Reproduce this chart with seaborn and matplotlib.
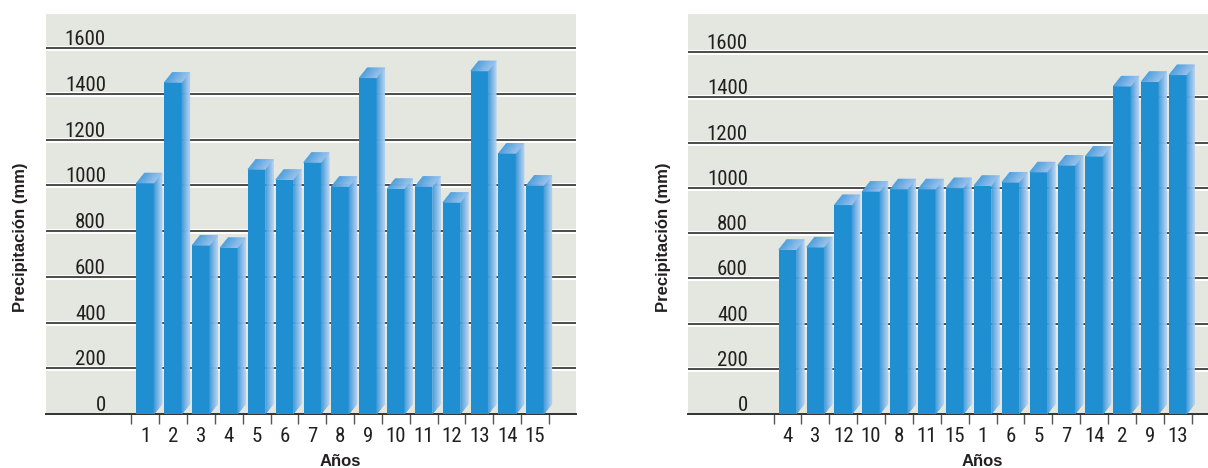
import numpy as np
import pandas as pd
import matplotlib
matplotlib.use("Agg")
import matplotlib.pyplot as plt
import seaborn as sns
from matplotlib.patches import Polygon
from matplotlib.colors import to_rgb
from matplotlib import font_manager

# ---- data -------------------------------------------------------------
years = ["1", "2", "3", "4", "5", "6", "7", "8", "9", "10", "11", "12", "13", "14", "15"]
precip_mm = [1010, 1450, 738, 727, 1070, 1025, 1100, 995, 1470, 985, 995, 925, 1500, 1140, 1000]
y_ticks = [0, 200, 400, 600, 800, 1000, 1200, 1400, 1600]
x_title = "Años"
y_title = "Precipitación (mm)"

df = pd.DataFrame({"year": years, "precip": precip_mm})
df_sorted = df.sort_values("precip", kind="stable")

# ---- style ------------------------------------------------------------
FRONT = "#1F8FD1"
SIDE_DARK, SIDE_LIGHT = "#3A97D8", "#B3D0F1"
TOP_DARK, TOP_LIGHT = "#4A9EDD", "#98C0EC"
PANEL = "#E3E7E0"
TEXT = "#231F20"
GRID = "#3D3D3D"
DX, DY = 8, 10  # depth of the bars, in pixels

# narrow face for the numbers, if one is available
installed = {f.name for f in font_manager.fontManager.ttflist}
narrow = [n for n in ("Roboto Condensed", "Liberation Sans Narrow", "Open Sans Condensed")
          if n in installed]
NUM_FAMILY = narrow + ["Liberation Sans", "DejaVu Sans"]
NUM_SIZE = 15 if narrow else 13.5
NUM_WEIGHT = "normal"

plt.rcParams["font.family"] = NUM_FAMILY

W, H = 1208, 468
fig = plt.figure(figsize=(W / 100, H / 100), dpi=100)
fig.patch.set_facecolor("white")


def px_axes(x0, x1, ytop, ybot):
    return fig.add_axes([x0 / W, 1 - ybot / H, (x1 - x0) / W, (ybot - ytop) / H])


def mix(c1, c2, t):
    a, b = np.array(to_rgb(c1)), np.array(to_rgb(c2))
    return tuple(a + (b - a) * t)


def draw_panel(ax, data, xlim, ytop, label_frac, ylab_x):
    sns.barplot(data=data, x="year", y="precip", order=list(data["year"]),
                color=FRONT, saturation=1, width=0.63, linewidth=0,
                errorbar=None, ax=ax, zorder=3)
    ax.set_xlim(*xlim)
    ax.set_ylim(0, ytop)
    ax.set_facecolor(PANEL)
    ax.set_xlabel("")
    ax.set_ylabel("")

    # embossed horizontal grid
    for v in y_ticks[1:]:
        ax.axhline(v, color="white", lw=3.6, zorder=1)
        ax.axhline(v, color=GRID, lw=1.3, zorder=1.5)

    # value labels sitting just above each grid line
    for v in y_ticks:
        ax.annotate(str(v), xy=(label_frac, v), xycoords=("axes fraction", "data"),
                    xytext=(0, 3), textcoords="offset pixels",
                    ha="right", va="baseline", fontsize=NUM_SIZE, fontweight=NUM_WEIGHT,
                    color=TEXT, zorder=2)

    # side and top faces of each bar
    to_data = ax.transData.inverted()
    for bar in list(ax.patches):
        x0, w, h = bar.get_x(), bar.get_width(), bar.get_height()
        X0, Y0 = ax.transData.transform((x0, 0))
        X1, Y1 = ax.transData.transform((x0 + w, h))
        n = 8
        for i in range(n):
            a, b = i / n, (i + 1) / n
            pts = [(X1 + DX * a, Y0 + DY * a), (X1 + DX * b, Y0 + DY * b),
                   (X1 + DX * b, Y1 + DY * b), (X1 + DX * a, Y1 + DY * a)]
            col = mix(SIDE_DARK, SIDE_LIGHT, (i + 0.5) / n)
            ax.add_patch(Polygon(to_data.transform(pts), closed=True, facecolor=col,
                                 edgecolor=col, lw=0.4, zorder=3))
        m = 10
        for i in range(m):
            a, b = i / m, (i + 1) / m
            xa, xb = X0 + (X1 - X0) * a, X0 + (X1 - X0) * b
            pts = [(xa, Y1), (xb, Y1), (xb + DX, Y1 + DY), (xa + DX, Y1 + DY)]
            col = mix(TOP_DARK, TOP_LIGHT, (i + 0.5) / m)
            ax.add_patch(Polygon(to_data.transform(pts), closed=True, facecolor=col,
                                 edgecolor=col, lw=0.4, zorder=3))

    # axes frame and ticks
    for side in ("top", "left", "right"):
        ax.spines[side].set_visible(False)
    ax.spines["bottom"].set_color("#333333")
    ax.spines["bottom"].set_linewidth(1.4)
    ax.tick_params(axis="y", left=False, labelleft=False)
    n_cat = len(data)
    ax.set_xticks(np.arange(n_cat))
    ax.set_xticklabels(list(data["year"]), fontweight=NUM_WEIGHT)
    ax.set_xticks(np.arange(-0.5, n_cat, 1), minor=True)
    ax.tick_params(axis="x", which="major", length=0, pad=9, labelsize=NUM_SIZE, labelcolor=TEXT)
    ax.tick_params(axis="x", which="minor", length=7, width=1, color="#555555")

    ax.annotate(x_title, xy=((n_cat - 1) / 2, 0), xycoords="data",
                xytext=(0, -52), textcoords="offset pixels", ha="center", va="baseline",
                fontsize=12, fontweight="bold", family=["Liberation Sans", "DejaVu Sans"],
                color=TEXT, annotation_clip=False)
    fig.text(ylab_x / W, 1 - 237 / H, y_title, rotation=90, ha="center", va="center",
             fontsize=12, fontweight="bold", family=["Liberation Sans", "DejaVu Sans"],
             color=TEXT)


ax_left = px_axes(46, 576, 14, 414)
ax_right = px_axes(688, 1208, 14, 414)

draw_panel(ax_left, df, (-3.564, 15.469), 1749, (106 - 46) / 530, 21)
draw_panel(ax_right, df_sorted, (-3.566, 15.081), 1769, (748 - 688) / 520, 663)

fig.savefig("out.png", dpi=100, facecolor="white")
